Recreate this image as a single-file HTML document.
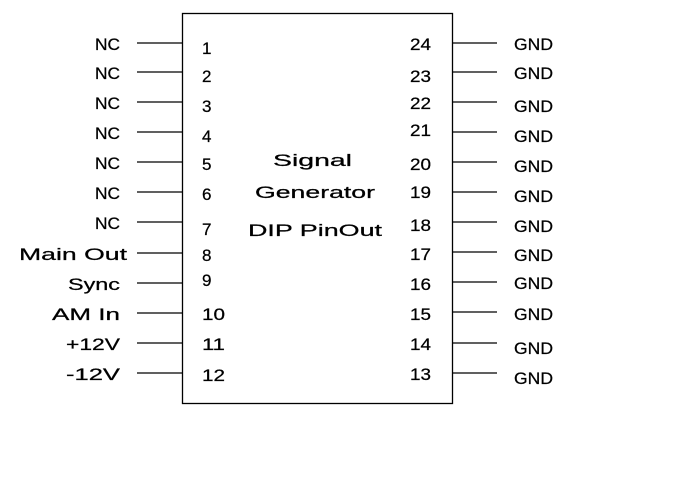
<!DOCTYPE html>
<html><head><style>body{margin:0;background:#fff}svg{display:block}text{font-family:"Liberation Sans",sans-serif;font-size:17px;fill:#000;stroke:#000;stroke-width:0.25}</style></head>
<body>
<svg width="674" height="479" xmlns="http://www.w3.org/2000/svg">
<rect x="182.5" y="13.5" width="270" height="390" fill="none" stroke="#000" stroke-width="1.3"/>
<g stroke="#000" stroke-width="1.3">
<line x1="137" y1="43" x2="182" y2="43"/><line x1="137" y1="72" x2="182" y2="72"/><line x1="137" y1="102" x2="182" y2="102"/><line x1="137" y1="132" x2="182" y2="132"/><line x1="137" y1="162" x2="182" y2="162"/><line x1="137" y1="192" x2="182" y2="192"/><line x1="137" y1="222" x2="182" y2="222"/><line x1="137" y1="253" x2="182" y2="253"/><line x1="137" y1="283" x2="182" y2="283"/><line x1="137" y1="313" x2="182" y2="313"/><line x1="137" y1="343" x2="182" y2="343"/><line x1="137" y1="373" x2="182" y2="373"/>
<line x1="452" y1="43" x2="497" y2="43"/><line x1="452" y1="72" x2="497" y2="72"/><line x1="452" y1="102" x2="497" y2="102"/><line x1="452" y1="132" x2="497" y2="132"/><line x1="452" y1="162" x2="497" y2="162"/><line x1="452" y1="192" x2="497" y2="192"/><line x1="452" y1="222" x2="497" y2="222"/><line x1="452" y1="252" x2="497" y2="252"/><line x1="452" y1="282" x2="497" y2="282"/><line x1="452" y1="312" x2="497" y2="312"/><line x1="452" y1="343" x2="497" y2="343"/><line x1="452" y1="373" x2="497" y2="373"/>
</g>
<g text-anchor="end">
<text x="120" y="50" textLength="25" lengthAdjust="spacingAndGlyphs">NC</text><text x="120" y="79" textLength="25" lengthAdjust="spacingAndGlyphs">NC</text><text x="120" y="109" textLength="25" lengthAdjust="spacingAndGlyphs">NC</text><text x="120" y="139" textLength="25" lengthAdjust="spacingAndGlyphs">NC</text><text x="120" y="169" textLength="25" lengthAdjust="spacingAndGlyphs">NC</text><text x="120" y="199" textLength="25" lengthAdjust="spacingAndGlyphs">NC</text><text x="120" y="229" textLength="25" lengthAdjust="spacingAndGlyphs">NC</text>
<text x="127" y="260" textLength="108" lengthAdjust="spacingAndGlyphs">Main Out</text>
<text x="120" y="290" textLength="52" lengthAdjust="spacingAndGlyphs">Sync</text>
<text x="120" y="320" textLength="68" lengthAdjust="spacingAndGlyphs">AM In</text>
<text x="120" y="350" textLength="54" lengthAdjust="spacingAndGlyphs">+12V</text>
<text x="120" y="380" textLength="54" lengthAdjust="spacingAndGlyphs">-12V</text>
</g>
<g>
<text x="202" y="54">1</text><text x="202" y="82">2</text><text x="202" y="112">3</text><text x="202" y="142">4</text><text x="202" y="170">5</text><text x="202" y="200">6</text><text x="202" y="235">7</text><text x="202" y="261">8</text><text x="202" y="286">9</text><text x="202" y="320" textLength="23" lengthAdjust="spacingAndGlyphs">10</text><text x="202" y="350" textLength="23" lengthAdjust="spacingAndGlyphs">11</text><text x="202" y="381" textLength="23" lengthAdjust="spacingAndGlyphs">12</text>
<text x="410" y="50" textLength="21" lengthAdjust="spacingAndGlyphs">24</text><text x="410" y="82" textLength="21" lengthAdjust="spacingAndGlyphs">23</text><text x="410" y="109" textLength="21" lengthAdjust="spacingAndGlyphs">22</text><text x="410" y="136" textLength="21" lengthAdjust="spacingAndGlyphs">21</text><text x="410" y="170" textLength="21" lengthAdjust="spacingAndGlyphs">20</text><text x="410" y="198" textLength="21" lengthAdjust="spacingAndGlyphs">19</text><text x="410" y="231" textLength="21" lengthAdjust="spacingAndGlyphs">18</text><text x="410" y="260" textLength="21" lengthAdjust="spacingAndGlyphs">17</text><text x="410" y="290" textLength="21" lengthAdjust="spacingAndGlyphs">16</text><text x="410" y="320" textLength="21" lengthAdjust="spacingAndGlyphs">15</text><text x="410" y="350" textLength="21" lengthAdjust="spacingAndGlyphs">14</text><text x="410" y="380" textLength="21" lengthAdjust="spacingAndGlyphs">13</text>
</g>
<g>
<text x="514" y="50" textLength="39" lengthAdjust="spacingAndGlyphs">GND</text><text x="514" y="79" textLength="39" lengthAdjust="spacingAndGlyphs">GND</text><text x="514" y="112" textLength="39" lengthAdjust="spacingAndGlyphs">GND</text><text x="514" y="142" textLength="39" lengthAdjust="spacingAndGlyphs">GND</text><text x="514" y="172" textLength="39" lengthAdjust="spacingAndGlyphs">GND</text><text x="514" y="202" textLength="39" lengthAdjust="spacingAndGlyphs">GND</text><text x="514" y="232" textLength="39" lengthAdjust="spacingAndGlyphs">GND</text><text x="514" y="261" textLength="39" lengthAdjust="spacingAndGlyphs">GND</text><text x="514" y="289" textLength="39" lengthAdjust="spacingAndGlyphs">GND</text><text x="514" y="320" textLength="39" lengthAdjust="spacingAndGlyphs">GND</text><text x="514" y="354" textLength="39" lengthAdjust="spacingAndGlyphs">GND</text><text x="514" y="384" textLength="39" lengthAdjust="spacingAndGlyphs">GND</text>
</g>
<g>
<text x="273" y="166" textLength="79" lengthAdjust="spacingAndGlyphs">Signal</text>
<text x="255" y="198" textLength="120" lengthAdjust="spacingAndGlyphs">Generator</text>
<text x="248" y="236" textLength="134" lengthAdjust="spacingAndGlyphs">DIP PinOut</text>
</g>
</svg>
</body></html>
